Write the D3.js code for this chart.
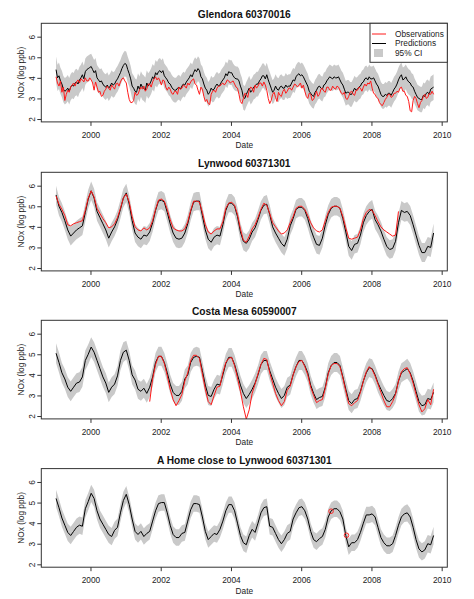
<!DOCTYPE html>
<html><head><meta charset="utf-8">
<script src="https://cdn.jsdelivr.net/npm/d3@7/dist/d3.min.js"></script>
<style>body{margin:0;background:#fff}svg{display:block}</style>
</head><body>
<script>
// ---------------- DATA ----------------
const firstSample = 1999.02;          // decimal year of first value of every series
const xTicks = [2000, 2002, 2004, 2006, 2008, 2010];
const yTicks = [2, 3, 4, 5, 6];
const titles = ["Glendora 60370016", "Lynwood 60371301", "Costa Mesa 60590007", "A Home close to Lynwood 60371301"];
const legendLabels = ["Observations", "Predictions", "95% CI"];

// Glendora: twice-monthly values
const glendoraPerYear = 24;
const glendoraPred = [
 4.40,4.00,4.10,3.85,3.70,3.45,3.35,3.40,3.50,3.35,3.55,3.65,3.60,3.75,3.80,3.70,3.90,4.00,4.15,3.95,4.30,4.40,4.45,4.50,
 4.55,4.40,4.25,4.35,4.00,3.90,3.80,3.85,3.70,3.60,3.55,3.65,3.50,3.60,3.75,3.65,3.70,3.85,3.95,4.10,4.25,4.45,4.60,4.70,
 4.65,4.40,4.20,3.95,3.60,3.50,3.35,3.30,3.60,3.45,3.70,3.55,3.50,3.40,3.75,3.60,3.70,3.85,4.05,3.95,4.25,4.15,4.30,4.35,
 4.25,4.35,4.10,4.00,3.90,3.75,3.70,3.55,3.45,3.40,3.40,3.50,3.55,3.45,3.60,3.70,3.65,3.80,3.90,4.00,4.15,4.05,4.25,4.40,
 4.30,4.45,4.35,4.05,3.95,3.70,3.50,3.40,3.20,3.30,3.50,3.40,3.45,3.60,3.70,3.60,3.65,3.80,3.90,4.00,4.20,4.10,4.30,4.25,
 4.25,4.10,4.00,3.95,3.95,3.85,3.60,3.40,3.05,3.00,3.20,3.35,3.50,3.30,3.40,3.55,3.60,3.70,3.70,3.85,3.95,4.10,4.10,3.95,
 4.15,3.90,3.70,3.50,3.30,3.40,3.60,3.45,3.40,3.55,3.60,3.50,3.50,3.65,3.55,3.60,3.60,3.75,3.90,3.85,4.05,4.15,4.20,4.10,
 4.15,4.05,3.90,3.75,3.60,3.35,3.25,3.15,3.10,3.30,3.40,3.55,3.60,3.50,3.45,3.65,3.70,3.85,3.95,4.05,4.00,3.95,4.05,4.00,
 4.00,4.05,3.90,3.75,3.65,3.45,3.25,3.30,3.30,3.20,3.20,3.35,3.50,3.40,3.45,3.55,3.60,3.75,3.80,3.95,4.00,3.90,4.05,3.95,
 3.95,4.00,3.85,3.70,3.60,3.40,3.20,3.10,3.10,3.20,3.15,3.25,3.25,3.15,3.30,3.45,3.55,3.70,3.90,4.05,4.15,3.90,3.95,4.05,
 3.90,3.80,3.75,3.60,3.55,3.35,3.20,3.05,3.00,2.95,2.95,3.15,3.10,3.25,3.30,3.20,3.45,3.50,3.55];
const glendoraObs = [
 4.05,3.75,3.60,3.85,3.30,3.55,2.90,3.20,3.40,3.30,3.55,3.65,3.75,3.60,3.80,3.90,3.75,3.95,3.90,3.80,4.00,3.85,3.85,4.00,
 3.90,3.75,3.40,3.80,3.55,3.30,3.35,3.10,3.15,3.35,3.45,3.60,3.50,3.40,3.65,3.55,3.45,3.70,3.75,3.60,3.80,3.95,4.00,3.85,
 3.75,3.30,2.95,2.80,2.80,2.90,3.30,3.15,3.20,3.40,3.55,3.45,3.60,3.35,3.45,3.70,3.70,3.55,3.80,3.95,4.05,3.90,4.00,3.85,
 3.65,3.90,3.85,3.55,3.40,3.55,3.45,3.25,3.20,3.35,3.35,3.20,3.55,3.45,3.50,3.65,3.60,3.50,3.75,3.65,3.80,3.90,3.95,3.70,
 3.65,3.40,3.20,3.55,3.45,3.10,2.85,2.95,2.75,2.70,3.20,3.35,3.40,3.30,3.50,3.60,3.60,3.70,3.75,3.65,3.75,3.90,3.85,3.75,
 3.80,3.85,3.70,3.55,3.50,3.20,2.85,2.75,3.00,3.25,3.20,3.05,3.40,3.55,3.50,3.30,3.65,3.50,3.60,3.75,3.75,3.60,3.80,3.65,
 3.40,3.00,2.75,2.90,3.20,3.30,3.05,2.85,3.30,3.15,3.10,3.35,3.45,3.25,3.35,3.50,3.50,3.40,3.55,3.70,3.65,3.55,3.65,3.75,
 3.50,3.65,3.35,3.10,3.00,3.25,3.20,2.90,2.95,3.15,3.35,3.10,3.20,3.45,3.50,3.35,3.30,3.55,3.55,3.40,3.40,3.60,3.50,3.45,
 3.60,3.55,3.40,3.25,3.20,3.30,3.00,2.95,3.10,3.30,3.35,3.20,3.15,3.40,3.40,3.55,3.50,3.35,3.55,3.70,3.60,3.75,3.70,3.85,
 3.50,3.25,3.20,3.05,3.00,2.80,2.70,2.65,2.80,2.95,3.05,3.20,3.20,3.05,3.10,3.25,3.25,3.35,3.30,3.50,3.55,3.35,3.35,3.15,
 3.10,2.85,2.40,2.35,2.90,3.10,3.00,2.75,2.55,2.80,2.90,3.10,3.20,3.00,3.05,3.25,3.20,3.35,3.20];
const glendoraObsStart = 0;
const glendoraCI = [0.64,0.62,0.62,0.60,0.60,0.60,0.58,0.60,0.60,0.60,0.62];

// other sites: monthly values
const lynwoodPerYear = 12;
const lynwoodPred = [
 5.55,5.00,4.70,4.30,3.85,3.55,3.70,3.85,3.95,4.05,4.70,5.35,
 5.75,5.40,4.75,4.45,4.15,3.85,3.45,3.75,4.00,4.35,4.85,5.40,
 5.65,5.10,4.30,3.70,3.50,3.40,3.60,3.55,3.75,4.20,4.80,5.25,
 5.30,5.20,4.70,4.15,3.70,3.45,3.40,3.45,3.70,4.15,4.75,5.20,
 5.25,5.25,4.55,3.85,3.40,3.25,3.50,3.60,3.55,4.10,4.80,5.15,
 5.15,5.00,4.50,3.75,3.30,3.20,3.40,3.75,3.95,4.35,4.80,5.05,
 5.10,4.60,4.00,3.70,3.45,3.20,3.05,3.40,4.05,4.40,4.85,4.95,
 4.95,4.80,4.40,3.90,3.50,3.15,3.10,3.45,4.10,4.60,4.90,5.00,
 5.00,4.90,4.40,3.75,3.05,2.85,3.15,3.20,3.60,4.20,4.55,4.75,
 4.85,4.35,4.10,3.80,3.40,3.05,2.90,2.95,3.30,4.20,4.80,4.70,
 4.75,4.55,4.10,3.60,3.10,2.75,2.75,3.05,3.00,3.70];
const lynwoodObs = [
 5.50,5.10,4.85,4.55,4.10,4.05,4.15,4.20,4.25,4.30,4.80,5.40,
 5.75,5.45,4.90,4.65,4.40,4.20,3.95,4.00,4.15,4.45,4.90,5.40,
 5.60,5.20,4.50,4.00,3.85,3.80,3.95,3.85,3.95,4.30,4.85,5.30,
 5.35,5.25,4.85,4.35,3.95,3.85,3.80,3.80,3.90,4.25,4.80,5.25,
 5.25,5.20,4.70,4.10,3.75,3.65,3.80,3.90,3.90,4.25,4.90,5.15,
 5.20,5.05,4.60,3.90,3.35,3.25,3.55,3.90,4.10,4.45,4.85,5.15,
 5.05,4.65,4.20,4.00,3.80,3.65,3.70,3.85,4.20,4.50,4.90,5.00,
 5.00,4.85,4.55,4.20,3.95,3.80,3.75,3.85,4.30,4.70,4.95,5.00,
 5.00,4.90,4.50,3.95,3.45,3.40,3.45,3.50,3.85,4.40,4.70,4.85,
 4.80,4.55,4.25,4.00,3.85,3.75,3.65,3.55,3.60,4.75];
const lynwoodObsStart = 0;
const lynwoodCI = [0.45,0.45,0.44,0.44,0.44,0.44,0.45,0.45,0.45,0.45,0.46];

const costaPerYear = 12;
const costaPred = [
 5.05,4.60,4.10,3.80,3.40,3.20,3.40,3.60,3.65,3.90,4.70,5.00,
 5.35,5.10,4.70,4.30,3.90,3.60,3.15,3.40,3.55,3.95,4.70,5.10,
 5.20,4.70,4.00,3.75,3.30,3.20,3.35,3.10,3.40,3.90,4.60,4.90,
 4.90,4.60,4.10,3.55,3.15,3.00,3.00,3.20,3.80,4.00,4.60,4.85,
 4.90,4.85,4.20,3.50,3.00,2.95,3.30,3.55,3.50,4.00,4.55,4.85,
 4.85,4.50,4.00,3.50,3.10,2.85,3.05,3.30,3.60,4.00,4.50,4.70,
 4.70,4.20,3.80,3.40,3.10,2.85,3.00,3.40,3.50,4.00,4.40,4.70,
 4.70,4.45,4.10,3.50,3.10,2.80,2.90,2.95,3.40,4.10,4.45,4.60,
 4.60,4.45,3.90,3.30,2.75,2.60,2.80,2.85,3.20,3.70,4.10,4.35,
 4.30,4.00,3.60,3.30,3.00,2.75,2.70,2.85,3.10,3.70,4.10,4.20,
 4.30,4.10,3.70,3.20,2.70,2.50,2.55,2.85,2.80,3.15];
const costaObs = [
 2.70,3.80,4.50,4.90,
 4.90,4.55,3.95,3.30,2.80,2.50,2.75,3.05,3.70,4.10,4.70,4.95,
 4.95,4.80,4.05,3.30,2.70,2.55,3.00,3.40,3.45,4.10,4.60,4.80,
 4.85,4.45,3.85,3.20,2.45,1.85,2.30,3.10,3.55,4.05,4.50,4.80,
 4.75,4.10,3.60,3.10,2.75,2.50,2.70,3.25,3.45,4.00,4.40,4.65,
 4.70,4.40,4.00,3.40,3.00,2.65,2.75,2.80,3.35,4.05,4.45,4.55,
 4.55,4.40,3.85,3.20,2.60,2.50,2.65,2.75,3.15,3.70,4.15,4.40,
 4.25,3.95,3.55,3.15,2.75,2.45,2.45,2.70,3.05,3.70,4.15,4.30,
 4.35,4.05,3.60,3.05,2.55,2.20,2.35,2.80,2.55,3.30];
const costaObsStart = 32;   // September 2001
const costaCI = [0.48,0.48,0.46,0.46,0.46,0.46,0.46,0.46,0.46,0.46,0.48];

const homePerYear = 12;
const homePred = [
 5.20,4.75,4.25,3.90,3.55,3.40,3.60,3.80,3.90,3.85,4.70,5.05,
 5.45,5.20,4.60,4.20,3.95,3.70,3.45,3.35,3.65,3.80,4.50,5.10,
 5.40,4.90,4.20,3.60,3.45,3.60,3.35,3.50,3.60,4.10,4.60,4.95,
 5.00,5.00,4.50,3.90,3.45,3.30,3.30,3.50,3.55,4.10,4.65,4.95,
 4.95,4.90,4.30,3.60,3.20,3.35,3.50,3.45,3.70,4.10,4.60,4.90,
 4.90,4.60,4.00,3.40,3.05,2.95,3.40,3.70,3.55,4.00,4.50,4.75,
 4.80,3.85,3.80,3.50,3.20,3.00,3.20,3.50,3.60,4.20,4.50,4.75,
 4.80,4.60,4.20,3.60,3.20,3.10,3.25,3.35,3.70,4.30,4.60,4.70,
 4.70,4.55,4.20,3.40,2.85,3.05,3.05,3.20,3.55,4.00,4.40,4.40,
 4.45,4.30,3.80,3.30,3.05,2.90,2.90,3.00,3.40,3.90,4.30,4.45,
 4.50,4.30,3.80,3.20,2.75,2.60,2.70,3.00,2.95,3.40];
const homeObsDates = [2006.85, 2007.29];
const homeObsValues = [4.58, 3.41];
const homeCI = [0.42,0.42,0.40,0.40,0.40,0.40,0.40,0.40,0.40,0.40,0.42];

// ---------------- LAYOUT ----------------
const W = 474, H = 599;
const panelOffsets = [0, 149, 297, 445.3];
const boxLeft = 41.3, boxRight = 447.3, boxTop = 23.3, boxBottom = 121.9;
const cx = (boxLeft + boxRight) / 2;
const FONT = "'Liberation Sans', Arial, Helvetica, sans-serif";
const RED = "#ff1a1a", BAND = "#c9c9c9";

const svg = d3.select("body").append("svg").attr("width", W).attr("height", H)
  .style("font-family", FONT);

const x = d3.scaleLinear().domain([1998.6, 2010.16]).range([boxLeft, boxRight]);

const panelData = [
  {pred: glendoraPred, obs: glendoraObs, obsStart: glendoraObsStart, ci: glendoraCI, perYear: glendoraPerYear},
  {pred: lynwoodPred, obs: lynwoodObs, obsStart: lynwoodObsStart, ci: lynwoodCI, perYear: lynwoodPerYear},
  {pred: costaPred, obs: costaObs, obsStart: costaObsStart, ci: costaCI, perYear: costaPerYear},
  {pred: homePred, obs: null, ci: homeCI, perYear: homePerYear}
];

panelData.forEach((p, k) => {
  const off = panelOffsets[k];
  const top = boxTop + off, bottom = boxBottom + off;
  const y = d3.scaleLinear().domain([1.86, 6.65]).range([bottom, top]);
  const tAt = i => firstSample + i / p.perYear;
  const g = svg.append("g");
  const clipId = "clip" + k;
  svg.append("clipPath").attr("id", clipId).append("rect")
    .attr("x", boxLeft).attr("y", top).attr("width", boxRight - boxLeft).attr("height", bottom - top);
  const plot = g.append("g").attr("clip-path", `url(#${clipId})`);

  const predPts = p.pred.map((v, i) => ({t: tAt(i), v, w: p.ci[Math.floor(tAt(i) - 1999)]}));
  plot.append("path").datum(predPts)
    .attr("d", d3.area().x(d => x(d.t)).y0(d => y(d.v - d.w)).y1(d => y(d.v + d.w)))
    .attr("fill", BAND).attr("stroke", "none");
  plot.append("path").datum(predPts)
    .attr("d", d3.line().x(d => x(d.t)).y(d => y(d.v)))
    .attr("fill", "none").attr("stroke", "#000").attr("stroke-width", 1);
  if (p.obs) {
    const obsPts = p.obs.map((v, i) => ({t: tAt(i + p.obsStart), v}));
    plot.append("path").datum(obsPts)
      .attr("d", d3.line().x(d => x(d.t)).y(d => y(d.v)))
      .attr("fill", "none").attr("stroke", RED).attr("stroke-width", 1);
  } else {
    plot.selectAll("circle.obs").data(homeObsDates.map((t, i) => ({t, v: homeObsValues[i]})))
      .join("circle").attr("class", "obs")
      .attr("cx", d => x(d.t)).attr("cy", d => y(d.v)).attr("r", 2.3)
      .attr("fill", "none").attr("stroke", RED).attr("stroke-width", 0.9);
  }

  // box
  g.append("rect").attr("x", boxLeft).attr("y", top)
    .attr("width", boxRight - boxLeft).attr("height", bottom - top)
    .attr("fill", "none").attr("stroke", "#333").attr("stroke-width", 1);

  // x axis
  const xa = g.append("g").attr("transform", `translate(0,${bottom})`)
    .call(d3.axisBottom(x).tickValues(xTicks).tickSize(4).tickPadding(5.9).tickFormat(d3.format("d")));
  xa.select(".domain").remove();
  xa.selectAll("line").attr("stroke", "#333");
  xa.selectAll("text").attr("font-size", 8.3).attr("fill", "#222").style("font-family", FONT);

  // y axis
  const ya = g.append("g").attr("transform", `translate(${boxLeft},0)`)
    .call(d3.axisLeft(y).tickValues(yTicks).tickSize(4).tickFormat(d3.format("d")));
  ya.select(".domain").remove();
  ya.selectAll("line").attr("stroke", "#333");
  ya.selectAll("text").attr("x", null).attr("dy", null)
    .attr("text-anchor", "middle").attr("transform", "translate(-6.6,0) rotate(-90)")
    .attr("font-size", 8.3).attr("fill", "#222").style("font-family", FONT);

  // labels
  g.append("text").attr("x", cx).attr("y", 18.3 + off).attr("text-anchor", "middle")
    .attr("font-weight", "bold").attr("font-size", 10.2).attr("fill", "#111").text(titles[k]);
  g.append("text").attr("x", cx).attr("y", 148.2 + off).attr("text-anchor", "middle")
    .attr("font-size", 8.3).attr("fill", "#222").text("Date");
  g.append("text").attr("transform", `translate(24,${(top + bottom) / 2}) rotate(-90)`)
    .attr("text-anchor", "middle").attr("font-size", 8.3).attr("fill", "#222").text("NOx (log ppb)");

  // legend (first panel only)
  if (k === 0) {
    const lg = g.append("g");
    lg.append("rect").attr("x", 370).attr("y", top).attr("width", boxRight - 370).attr("height", 39)
      .attr("fill", "#fff").attr("stroke", "#333").attr("stroke-width", 1);
    const rows = [top + 10.7, top + 20.2, top + 29.7];
    lg.append("line").attr("x1", 372).attr("x2", 386).attr("y1", rows[0]).attr("y2", rows[0])
      .attr("stroke", RED).attr("stroke-width", 1);
    lg.append("line").attr("x1", 372).attr("x2", 386).attr("y1", rows[1]).attr("y2", rows[1])
      .attr("stroke", "#000").attr("stroke-width", 1);
    lg.append("rect").attr("x", 374).attr("y", rows[2] - 4).attr("width", 9).attr("height", 8)
      .attr("fill", BAND);
    legendLabels.forEach((s, i) => {
      lg.append("text").attr("x", 395).attr("y", rows[i]).attr("dy", "0.35em")
        .attr("font-size", 8.3).attr("fill", "#222").text(s);
    });
  }
});
</script>
</body></html>
